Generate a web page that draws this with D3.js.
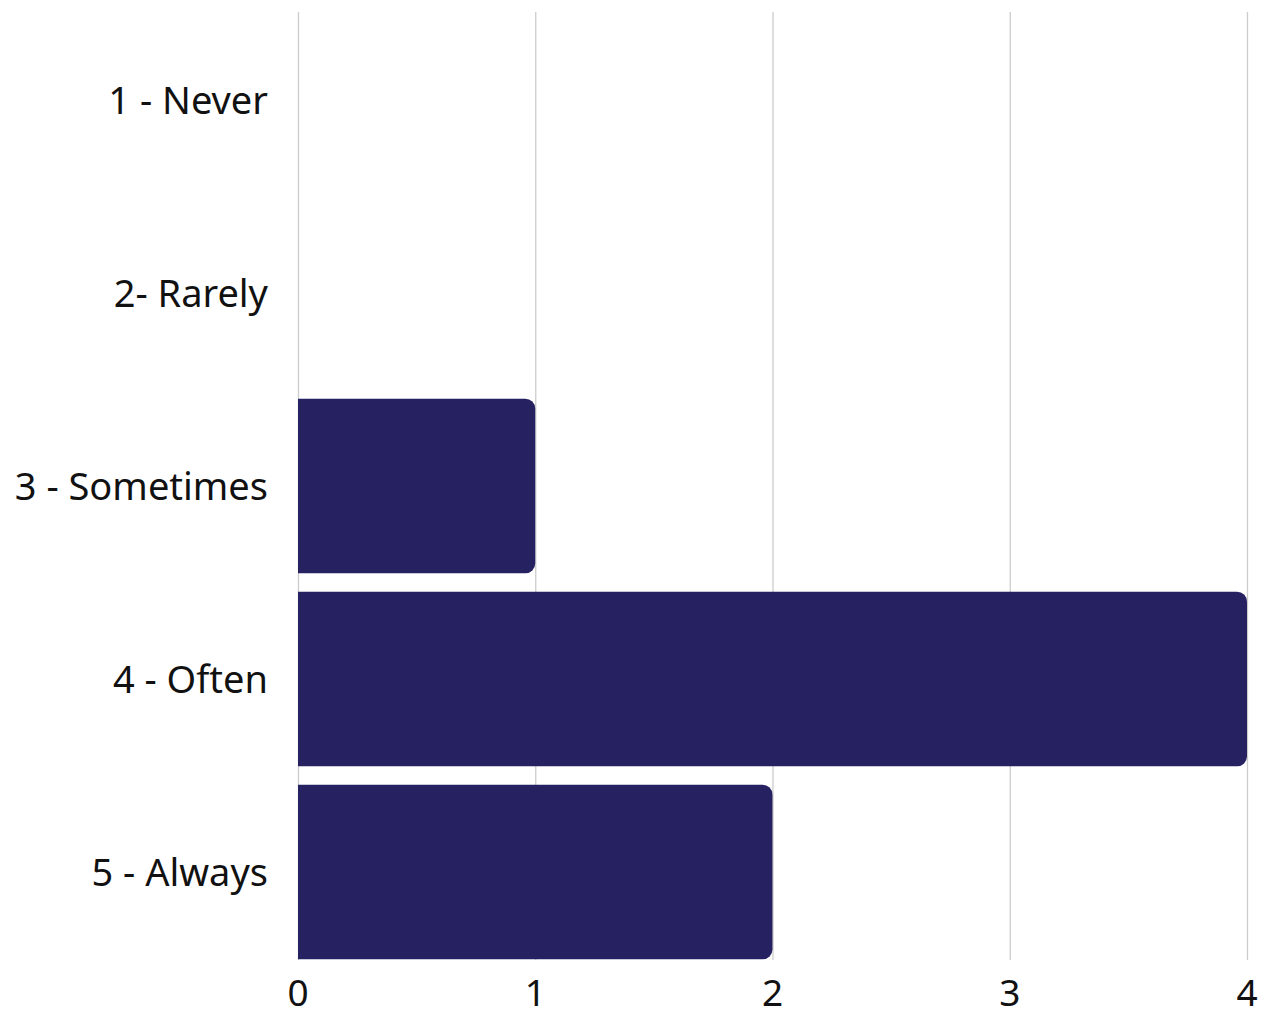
<!DOCTYPE html>
<html>
<head>
<meta charset="utf-8">
<script src="https://cdn.jsdelivr.net/npm/d3@7"></script>
<style>
  html, body { margin: 0; padding: 0; background: #ffffff; }
  svg { display: block; }
  text { font-family: "Noto Sans", "Open Sans", sans-serif; fill: #111111; }
</style>
</head>
<body>
<svg id="chart" width="1263" height="1017"></svg>
<script>
// Survey responses per answer option
const categories = ["1 - Never", "2- Rarely", "3 - Sometimes", "4 - Often", "5 - Always"];
const counts = [0, 0, 1, 4, 2];
const xTicks = [0, 1, 2, 3, 4];

const svg = d3.select("#chart");
const left = 298, right = 1247;
const gridTop = 12, gridBottom = 960;

const x = d3.scaleLinear().domain([0, 4]).range([left, right]);
const y = d3.scaleBand().domain(categories).range([3.5, 968.5]).paddingInner(0.095).paddingOuter(0.0475);

// vertical gridlines
svg.append("g").selectAll("line").data(xTicks).join("line")
  .attr("x1", d => x(d) + 0.5).attr("x2", d => x(d) + 0.5)
  .attr("y1", gridTop).attr("y2", gridBottom)
  .attr("stroke", "#cccccc").attr("stroke-width", 1.3);

// bars with rounded right end
const r = 10;
function barPath(d, i) {
  const x0 = x(0), x1 = x(d), y0 = y(categories[i]), h = y.bandwidth();
  if (x1 - x0 <= 0) return "";
  const rr = Math.min(r, (x1 - x0) / 2, h / 2);
  return `M${x0},${y0}H${x1 - rr}A${rr},${rr} 0 0 1 ${x1},${y0 + rr}` +
         `V${y0 + h - rr}A${rr},${rr} 0 0 1 ${x1 - rr},${y0 + h}H${x0}Z`;
}
svg.append("g").selectAll("path").data(counts).join("path")
  .attr("d", barPath)
  .attr("fill", "#262262");

// category labels
svg.append("g").selectAll("text").data(categories).join("text")
  .attr("x", 268).attr("y", d => y(d) + y.bandwidth() / 2 + 13.5)
  .attr("text-anchor", "end")
  .attr("font-size", 38)
  .text(d => d);

// x tick labels
svg.append("g").selectAll("text").data(xTicks).join("text")
  .attr("x", d => x(d)).attr("y", 1006)
  .attr("text-anchor", "middle")
  .attr("font-size", 37)
  .text(d => d);
</script>
</body>
</html>
